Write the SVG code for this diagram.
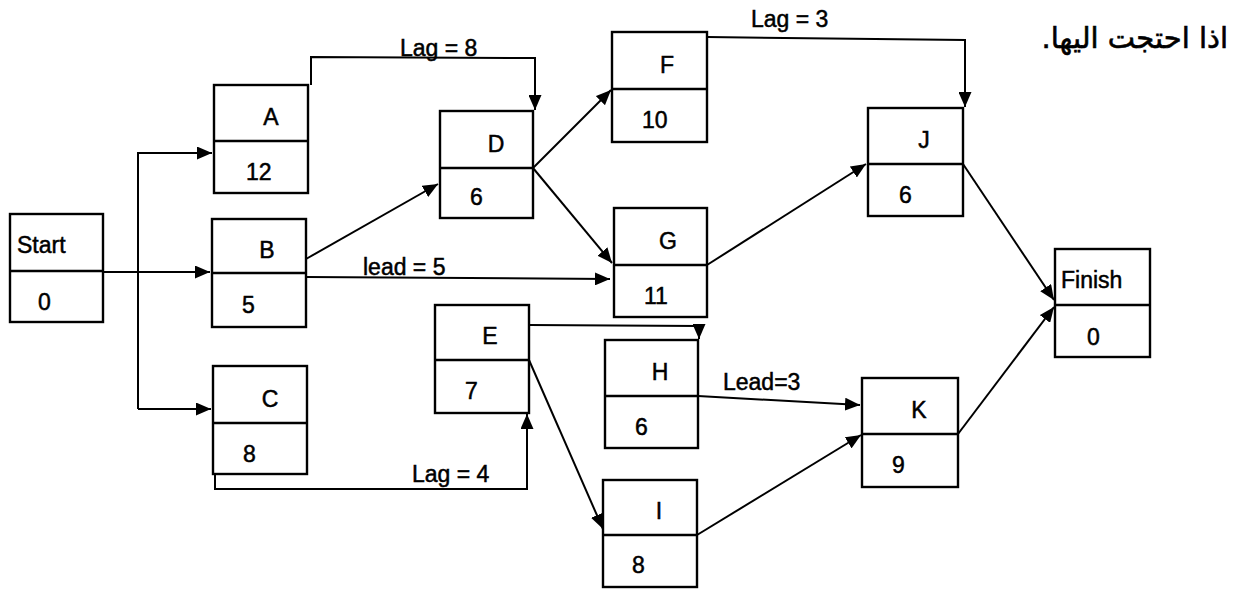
<svg xmlns="http://www.w3.org/2000/svg" width="1238" height="589" viewBox="0 0 1238 589">
<style>
.box{fill:#fff;stroke:#000;stroke-width:2.4}
.div{stroke:#000;stroke-width:2.4}
.t{font-family:"Liberation Sans",Arial,sans-serif;font-size:23px;fill:#000;stroke:#000;stroke-width:0.5}
.c{text-anchor:middle}
.lbl{font-family:"Liberation Sans",Arial,sans-serif;font-size:23px;fill:#000;stroke:#000;stroke-width:0.5}
.e{fill:none;stroke:#000;stroke-width:2}
.ar{font-family:"DejaVu Sans","Noto Sans",sans-serif;font-size:29px;fill:#000;stroke:#000;stroke-width:0.6}
</style>
<defs>
<marker id="ah" viewBox="0 0 15 13" refX="15" refY="6.5" markerWidth="15" markerHeight="13" markerUnits="userSpaceOnUse" orient="auto">
<path d="M0,0 L15,6.5 L0,13 Z" fill="#000"/>
</marker>
</defs>
<rect width="1238" height="589" fill="#fff"/>
<text class="ar" x="1228" y="48" text-anchor="start" direction="rtl">اذا احتجت اليها.</text>
<g id="connectors">
<path class="e" d="M103,272 L210,272" marker-end="url(#ah)"/>
<path class="e" d="M138,409 L138,153 L212,153" marker-end="url(#ah)"/>
<path class="e" d="M138,409 L211,409" marker-end="url(#ah)"/>
<path class="e" d="M311,85 L311,57 L535,58 L535,110" marker-end="url(#ah)"/>
<path class="e" d="M306,259 L438,184" marker-end="url(#ah)"/>
<path class="e" d="M306,277 L610,279" marker-end="url(#ah)"/>
<path class="e" d="M215,474 L215,489 L527,489 L527,414" marker-end="url(#ah)"/>
<path class="e" d="M533,168 L611,90" marker-end="url(#ah)"/>
<path class="e" d="M533,168 L612,263" marker-end="url(#ah)"/>
<path class="e" d="M707,37 L965,40 L965,107" marker-end="url(#ah)"/>
<path class="e" d="M707,265 L866,164" marker-end="url(#ah)"/>
<path class="e" d="M529,325 L699,326 L699,339" marker-end="url(#ah)"/>
<path class="e" d="M529,360 L603,529" marker-end="url(#ah)"/>
<path class="e" d="M698,396 L860,405" marker-end="url(#ah)"/>
<path class="e" d="M697,535 L861,435" marker-end="url(#ah)"/>
<path class="e" d="M963,164 L1054,300" marker-end="url(#ah)"/>
<path class="e" d="M958,434 L1054,307" marker-end="url(#ah)"/>
<text class="lbl" x="400" y="56">Lag = 8</text>
<text class="lbl" x="751" y="27">Lag = 3</text>
<text class="lbl" x="363" y="275">lead = 5</text>
<text class="lbl" x="412" y="482">Lag = 4</text>
<text class="lbl" x="723" y="390">Lead=3</text>
</g>
<g id="Start">
<rect class="box" x="10" y="214" width="93" height="108"/>
<line class="div" x1="10" y1="271" x2="103" y2="271"/>
<text class="t" x="17" y="253">Start</text>
<text class="t" x="38" y="310">0</text>
</g>
<g id="A">
<rect class="box" x="214" y="85" width="94" height="108"/>
<line class="div" x1="214" y1="141" x2="308" y2="141"/>
<text class="t c" x="271" y="125">A</text>
<text class="t" x="246" y="180">12</text>
</g>
<g id="B">
<rect class="box" x="212" y="219" width="94" height="108"/>
<line class="div" x1="212" y1="273" x2="306" y2="273"/>
<text class="t c" x="267" y="258">B</text>
<text class="t" x="242" y="313">5</text>
</g>
<g id="C">
<rect class="box" x="213" y="366" width="94" height="108"/>
<line class="div" x1="213" y1="423" x2="307" y2="423"/>
<text class="t c" x="270" y="407">C</text>
<text class="t" x="243" y="462">8</text>
</g>
<g id="D">
<rect class="box" x="440" y="111" width="93" height="107"/>
<line class="div" x1="440" y1="168" x2="533" y2="168"/>
<text class="t c" x="496" y="152">D</text>
<text class="t" x="470" y="205">6</text>
</g>
<g id="E">
<rect class="box" x="435" y="305" width="94" height="108"/>
<line class="div" x1="435" y1="360" x2="529" y2="360"/>
<text class="t c" x="490" y="344">E</text>
<text class="t" x="465" y="399">7</text>
</g>
<g id="F">
<rect class="box" x="612" y="32" width="95" height="110"/>
<line class="div" x1="612" y1="89" x2="707" y2="89"/>
<text class="t c" x="667" y="73">F</text>
<text class="t" x="642" y="128">10</text>
</g>
<g id="G">
<rect class="box" x="614" y="208" width="93" height="109"/>
<line class="div" x1="614" y1="265" x2="707" y2="265"/>
<text class="t c" x="668" y="249">G</text>
<text class="t" x="644" y="304">11</text>
</g>
<g id="H">
<rect class="box" x="605" y="340" width="93" height="108"/>
<line class="div" x1="605" y1="396" x2="698" y2="396"/>
<text class="t c" x="660" y="380">H</text>
<text class="t" x="635" y="435">6</text>
</g>
<g id="I">
<rect class="box" x="603" y="480" width="94" height="107"/>
<line class="div" x1="603" y1="535" x2="697" y2="535"/>
<text class="t c" x="659" y="519">I</text>
<text class="t" x="632" y="573">8</text>
</g>
<g id="J">
<rect class="box" x="868" y="108" width="95" height="108"/>
<line class="div" x1="868" y1="164" x2="963" y2="164"/>
<text class="t c" x="924" y="148">J</text>
<text class="t" x="899" y="203">6</text>
</g>
<g id="K">
<rect class="box" x="862" y="378" width="96" height="109"/>
<line class="div" x1="862" y1="434" x2="958" y2="434"/>
<text class="t c" x="919" y="418">K</text>
<text class="t" x="892" y="473">9</text>
</g>
<g id="Finish">
<rect class="box" x="1055" y="249" width="95" height="108"/>
<line class="div" x1="1055" y1="305" x2="1150" y2="305"/>
<text class="t" x="1061" y="288">Finish</text>
<text class="t" x="1087" y="345">0</text>
</g>
</svg>
